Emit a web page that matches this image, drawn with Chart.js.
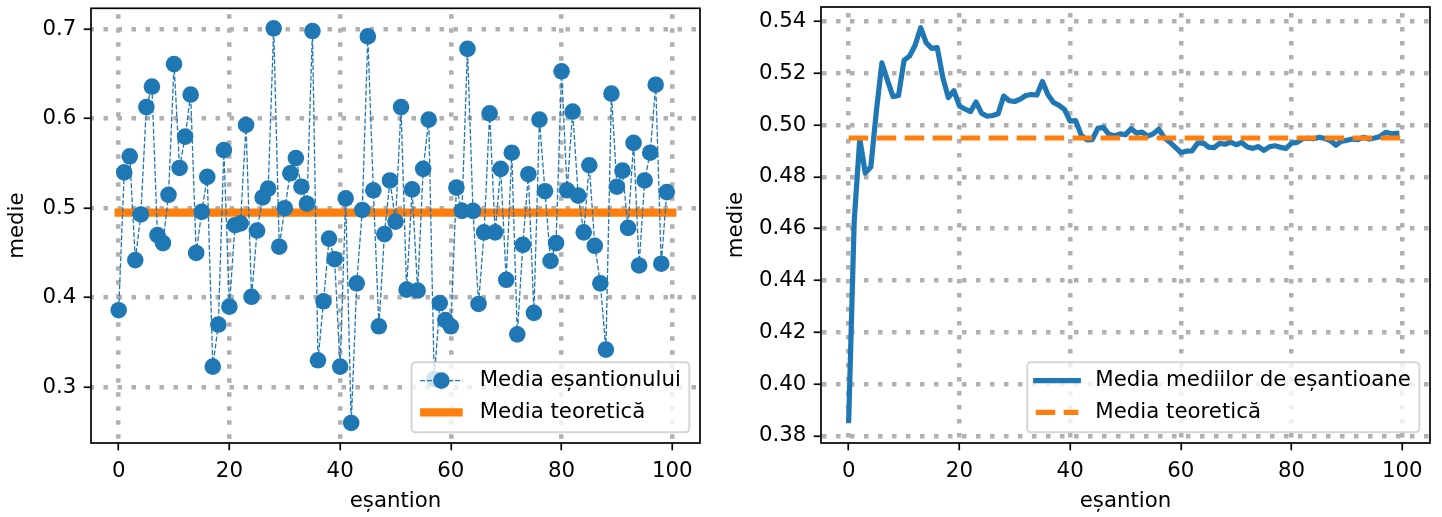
<!DOCTYPE html>
<html lang="ro">
<head>
<meta charset="utf-8" />
<title>Media eșantioanelor</title>
<style>
  html, body { margin: 0; padding: 0; background: #fff; }
  .fig { position: relative; width: 1442px; height: 517px; }
  .fig canvas { position: absolute; top: 0; }
</style>
</head>
<body>
<div class="fig">
  <canvas id="leftChart" width="721" height="517" style="left:0"></canvas>
  <canvas id="rightChart" width="721" height="517" style="left:721px"></canvas>
</div>

<script src="https://cdn.jsdelivr.net/npm/chart.js"></script>
<script>
// sample index 0..99
const sampleIndex = Array.from({ length: 100 }, (_, i) => i);

// mean of each sample
const sampleMeans = [
  0.386, 0.540, 0.558, 0.442, 0.493, 0.613, 0.636, 0.470, 0.461, 0.515,
  0.661, 0.545, 0.580, 0.627, 0.450, 0.496, 0.535, 0.323, 0.370, 0.565,
  0.390, 0.481, 0.483, 0.593, 0.401, 0.475, 0.512, 0.522, 0.701, 0.457,
  0.500, 0.539, 0.556, 0.524, 0.505, 0.698, 0.330, 0.396, 0.466, 0.443,
  0.323, 0.511, 0.260, 0.416, 0.498, 0.692, 0.520, 0.368, 0.471, 0.531,
  0.485, 0.613, 0.409, 0.521, 0.408, 0.544, 0.599, 0.309, 0.394, 0.375,
  0.368, 0.523, 0.497, 0.678, 0.497, 0.393, 0.473, 0.606, 0.473, 0.544,
  0.420, 0.562, 0.359, 0.459, 0.538, 0.383, 0.599, 0.519, 0.441, 0.461,
  0.653, 0.520, 0.608, 0.514, 0.473, 0.548, 0.458, 0.416, 0.342, 0.628,
  0.524, 0.542, 0.478, 0.573, 0.436, 0.531, 0.562, 0.638, 0.438, 0.518
];

// running mean of the sample means
const runningMeans = [
  0.3860, 0.4630, 0.4947, 0.4815, 0.4838, 0.5053, 0.5240, 0.5173, 0.5110, 0.5114,
  0.5250, 0.5267, 0.5308, 0.5376, 0.5318, 0.5296, 0.5299, 0.5184, 0.5106, 0.5133,
  0.5074, 0.5062, 0.5052, 0.5089, 0.5046, 0.5034, 0.5037, 0.5044, 0.5112, 0.5094,
  0.5091, 0.5100, 0.5114, 0.5118, 0.5116, 0.5168, 0.5117, 0.5087, 0.5076, 0.5060,
  0.5015, 0.5017, 0.4961, 0.4943, 0.4944, 0.4987, 0.4991, 0.4964, 0.4959, 0.4966,
  0.4963, 0.4986, 0.4969, 0.4973, 0.4957, 0.4966, 0.4984, 0.4951, 0.4934, 0.4914,
  0.4894, 0.4899, 0.4900, 0.4930, 0.4931, 0.4915, 0.4913, 0.4929, 0.4926, 0.4934,
  0.4924, 0.4933, 0.4915, 0.4910, 0.4917, 0.4902, 0.4916, 0.4920, 0.4914, 0.4910,
  0.4930, 0.4933, 0.4947, 0.4949, 0.4947, 0.4953, 0.4948, 0.4940, 0.4922, 0.4938,
  0.4941, 0.4946, 0.4944, 0.4953, 0.4946, 0.4950, 0.4956, 0.4972, 0.4966, 0.4968
];

const theoreticalMean = 0.495;
const theoryRange = [0, 100];

const xTicks = [0, 20, 40, 60, 80, 100];
const leftYTicks = [0.3, 0.4, 0.5, 0.6, 0.7];
const rightYTicks = [0.38, 0.40, 0.42, 0.44, 0.46, 0.48, 0.50, 0.52, 0.54];

const BLUE = '#1f77b4';
const ORANGE = '#ff7f0e';
const FONT_SIZE = 21.3;
const FONT = { family: '"DejaVu Sans", sans-serif', size: FONT_SIZE };

const xy = (ys) => sampleIndex.map((x, i) => ({ x, y: ys[i] }));
const theoryLine = theoryRange.map(x => ({ x, y: theoreticalMean }));

function buildScales(cfg) {
  const grid = {
    color: '#b0b0b0',
    lineWidth: 4.5,
    tickLength: 7.3,
    tickWidth: 1.7,
    tickColor: '#000',
  };
  return {
    x: {
      type: 'linear',
      min: -5,
      max: 105,
      afterBuildTicks: s => { s.ticks = xTicks.map(v => ({ value: v })); },
      afterFit: s => { s.height = 74; s.paddingLeft = 0; s.paddingRight = 0; },
      ticks: { font: FONT, color: '#000', padding: 8.5, maxRotation: 0, autoSkip: false,
               callback: v => String(v) },
      grid: grid,
      border: { display: false, dash: [4.5, 9.5], dashOffset: 8 },
      title: { display: true, text: 'eșantion', font: FONT, color: '#000',
               padding: { top: 0, bottom: 3 } },
    },
    y: {
      type: 'linear',
      min: cfg.yMin,
      max: cfg.yMax,
      afterBuildTicks: s => { s.ticks = cfg.yTicks.map(v => ({ value: v })); },
      afterFit: s => { s.width = cfg.axisWidth; s.paddingTop = 0; s.paddingBottom = 0; },
      ticks: { font: FONT, color: '#000', padding: 7.3, autoSkip: false,
               callback: v => v.toFixed(cfg.digits) },
      grid: grid,
      border: { display: false, dash: [4.5, 9.5], dashOffset: cfg.yDashOffset },
      title: { display: true, text: 'medie', font: FONT, color: '#000',
               padding: { top: cfg.titlePad, bottom: 0 } },
    },
  };
}

// axes frame (all four spines)
const framePlugin = {
  id: 'frame',
  afterDatasetsDraw(chart) {
    const { ctx, chartArea: a } = chart;
    ctx.save();
    ctx.strokeStyle = '#000';
    ctx.lineWidth = 1.7;
    ctx.strokeRect(a.left, a.top, a.right - a.left, a.bottom - a.top);
    ctx.restore();
  },
};

// legend box in the lower right corner of the axes
const boxLegend = {
  id: 'boxLegend',
  afterDraw(chart, args, opts) {
    const { ctx, chartArea: a } = chart;
    const em = FONT_SIZE;
    ctx.save();
    ctx.font = `${FONT_SIZE}px "DejaVu Sans", sans-serif`;
    const textW = Math.max(...opts.items.map(it => ctx.measureText(it.label).width));
    const w = 0.4 * em + 2 * em + 0.8 * em + textW + 0.4 * em;
    const h = 70;
    const x = a.right - 0.5 * em - w;
    const y = a.bottom - 0.5 * em - h;

    ctx.beginPath();
    ctx.roundRect(x, y, w, h, 4);
    ctx.fillStyle = 'rgba(255,255,255,0.8)';
    ctx.fill();
    ctx.lineWidth = 2;
    ctx.strokeStyle = 'rgba(204,204,204,0.8)';
    ctx.stroke();

    const hx0 = x + 0.4 * em;
    const hx1 = hx0 + 2 * em;
    opts.items.forEach((it, i) => {
      const cy = y + 18.3 + i * 31.7;
      ctx.save();
      ctx.strokeStyle = it.color;
      ctx.lineWidth = it.width;
      ctx.lineCap = it.cap || 'butt';
      ctx.setLineDash(it.dash || []);
      ctx.beginPath();
      ctx.moveTo(hx0, cy);
      ctx.lineTo(hx1, cy);
      ctx.stroke();
      if (it.marker) {
        ctx.setLineDash([]);
        ctx.fillStyle = it.color;
        ctx.beginPath();
        ctx.arc((hx0 + hx1) / 2, cy, it.marker, 0, Math.PI * 2);
        ctx.fill();
      }
      ctx.restore();
      ctx.fillStyle = '#000';
      ctx.textBaseline = 'middle';
      ctx.textAlign = 'left';
      ctx.fillText(it.label, hx1 + 0.8 * em, cy);
    });
    ctx.restore();
  },
};

const commonOptions = {
  responsive: false,
  animation: false,
  devicePixelRatio: 1,
  events: [],
};

// left: each sample mean and the theoretical mean
new Chart(document.getElementById('leftChart'), {
  type: 'line',
  data: {
    datasets: [
      {
        label: 'Media eșantionului',
        data: xy(sampleMeans),
        borderColor: BLUE,
        borderWidth: 1.3,
        borderDash: [5, 2],
        pointRadius: 8.3,
        pointBackgroundColor: BLUE,
        pointBorderWidth: 0,
        tension: 0,
        order: 0,
      },
      {
        label: 'Media teoretică',
        data: theoryLine,
        borderColor: ORANGE,
        borderWidth: 8.3,
        borderCapStyle: 'square',
        pointRadius: 0,
        order: 1,
      },
    ],
  },
  options: {
    ...commonOptions,
    layout: { padding: { left: 0, top: 7, right: 21, bottom: 0 } },
    scales: buildScales({
      yMin: 0.2376, yMax: 0.7234, yTicks: leftYTicks, digits: 1,
      axisWidth: 91, titlePad: 5, yDashOffset: 1.5,
    }),
    plugins: {
      legend: { display: false },
      tooltip: { enabled: false },
      boxLegend: {
        items: [
          { label: 'Media eșantionului', color: BLUE, width: 1.3, dash: [5, 2], marker: 8.3 },
          { label: 'Media teoretică', color: ORANGE, width: 8.3 },
        ],
      },
    },
  },
  plugins: [framePlugin, boxLegend],
});

// right: running mean against the theoretical mean
new Chart(document.getElementById('rightChart'), {
  type: 'line',
  data: {
    datasets: [
      {
        label: 'Media mediilor de eșantioane',
        data: xy(runningMeans),
        borderColor: BLUE,
        borderWidth: 5.2,
        borderCapStyle: 'square',
        borderJoinStyle: 'round',
        pointRadius: 0,
        tension: 0,
        order: 1,
      },
      {
        label: 'Media teoretică',
        data: theoryLine,
        borderColor: ORANGE,
        borderWidth: 5.2,
        borderDash: [19.5, 8.5],
        pointRadius: 0,
        order: 0,
      },
    ],
  },
  options: {
    ...commonOptions,
    layout: { padding: { left: 0, top: 7, right: 12, bottom: 0 } },
    scales: buildScales({
      yMin: 0.3772, yMax: 0.5456, yTicks: rightYTicks, digits: 2,
      axisWidth: 100, titlePad: 3, yDashOffset: 13,
    }),
    plugins: {
      legend: { display: false },
      tooltip: { enabled: false },
      boxLegend: {
        items: [
          { label: 'Media mediilor de eșantioane', color: BLUE, width: 5.2, cap: 'square' },
          { label: 'Media teoretică', color: ORANGE, width: 5.2, dash: [19.5, 8.5] },
        ],
      },
    },
  },
  plugins: [framePlugin, boxLegend],
});
</script>
</body>
</html>
